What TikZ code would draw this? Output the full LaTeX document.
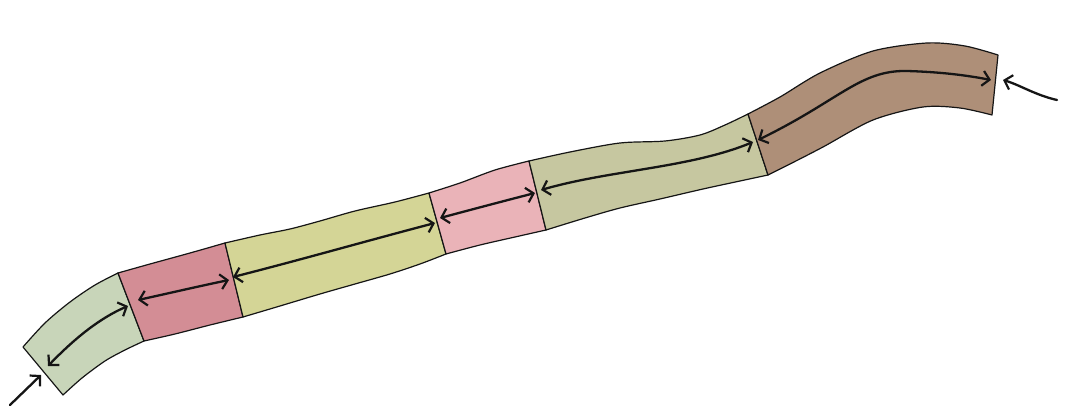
\documentclass[tikz,border=0pt]{standalone}
\usetikzlibrary{arrows.meta}
\definecolor{cA}{HTML}{C8D5B9}
\definecolor{cB}{HTML}{D38D95}
\definecolor{cC}{HTML}{D4D596}
\definecolor{cD}{HTML}{EAB3B8}
\definecolor{cE}{HTML}{C6C7A0}
\definecolor{cF}{HTML}{AE8F78}
\definecolor{ink}{HTML}{151515}
\begin{document}
\begin{tikzpicture}[x=1pt,y=-1pt,
  seg/.style={draw=ink,line width=1.2pt,line join=round},
  tip/.tip={Straight Barb[length=7pt,width=15pt,line width=2.2pt]},
  dbl/.style={draw=ink,line width=2.3pt,line cap=round,tip-tip},
  sgl/.style={draw=ink,line width=2.3pt,line cap=round,-tip}]
\useasboundingbox (0,0) rectangle (1066,419);
% segment 1
\path[seg,fill=cA] plot[smooth] coordinates {(23,347) (45,323) (70,302) (95,285) (118,273)}
  -- plot[smooth] coordinates {(144,341) (125,350) (105,361) (82,378) (63,395)} -- cycle;
% segment 2
\path[seg,fill=cB] plot[smooth] coordinates {(118,273) (150,264) (190,253) (225,243)}
  -- plot[smooth] coordinates {(243,317) (210,325) (175,334) (144,341)} -- cycle;
% segment 3
\path[seg,fill=cC] plot[smooth] coordinates {(225,243) (260,235) (290,229) (320,221) (355,211) (395,202) (429,193)}
  -- plot[smooth] coordinates {(446,254) (420,264) (390,274) (355,284) (320,294) (280,306) (243,317)} -- cycle;
% segment 4
\path[seg,fill=cD] plot[smooth] coordinates {(429,193) (460,183) (495,170) (529,161)}
  -- plot[smooth] coordinates {(546,230) (515,237) (480,245) (446,254)} -- cycle;
% segment 5
\path[seg,fill=cE] plot[smooth] coordinates {(529,161) (570,152) (620,143) (665,141) (700,135) (725,125) (748,114)}
  -- plot[smooth] coordinates {(768,175) (740,181) (703,189) (660,199) (620,208) (585,218) (546,230)} -- cycle;
% segment 6
\path[seg,fill=cF] plot[smooth] coordinates {(748,114) (780,97) (820,73) (873,51) (927,43) (965,46) (998,55)}
  -- (995,85) -- (992,115)
  -- plot[smooth] coordinates {(992,115) (960,108) (923,107) (873,120) (823,147) (790,164) (768,175)} -- cycle;
% arrow end points
\coordinate (a1) at (48,366); \coordinate (b1) at (128,306);
\coordinate (a2) at (138,300); \coordinate (b2) at (229,280);
\coordinate (a3) at (233,277); \coordinate (b3) at (435,223);
\coordinate (a4) at (440,218); \coordinate (b4) at (535,193);
\coordinate (a5) at (541,190); \coordinate (b5) at (753,142);
\coordinate (a6) at (758,140); \coordinate (b6) at (991,80);
\coordinate (s1) at (10,405); \coordinate (e1) at (41,375);
\coordinate (s2) at (1057,100); \coordinate (e2) at (1003,80);
% double arrows
\draw[dbl] (a1) .. controls (75,338) and (100,318) .. (b1);
\draw[dbl] (a2) .. controls (170,293) and (200,286) .. (b2);
\draw[dbl] (a3) .. controls (300,260) and (370,240) .. (b3);
\draw[dbl] (a4) .. controls (470,210) and (500,202) .. (b4);
\draw[dbl] (a5) .. controls (610,170) and (690,168) .. (b5);
\draw[dbl] (a6) .. controls (840,100) and (860,70) .. (907,71) .. controls (940,72) and (965,75) .. (b6);
% end arrows
\draw[sgl] (s1) -- (e1);
\draw[sgl] (s2) .. controls (1035,95) and (1020,85) .. (e2);
\end{tikzpicture}
\end{document}
